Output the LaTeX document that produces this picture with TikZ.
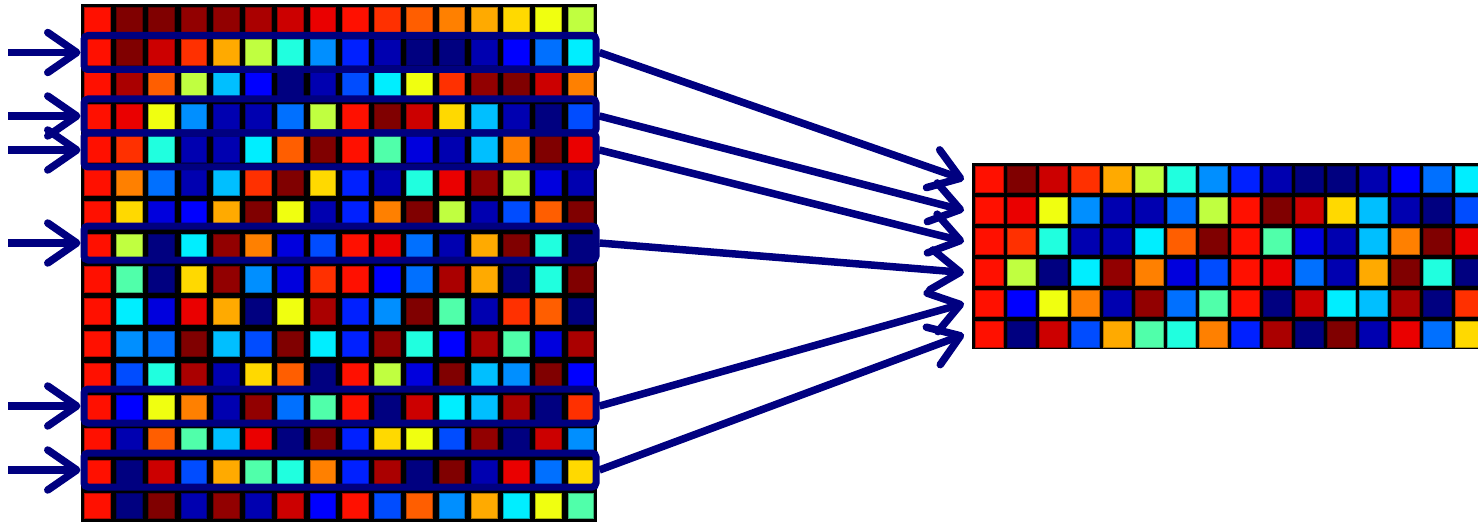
\documentclass[tikz,border=0pt]{standalone}
\usepackage{tikz}
\usetikzlibrary{arrows.meta}
\definecolor{flowNavy}{RGB}{0,0,128}
\definecolor{jN1}{RGB}{0,0,128}
\definecolor{jN2}{RGB}{0,0,176}
\definecolor{jB}{RGB}{0,0,221}
\definecolor{jB1}{RGB}{0,0,255}
\definecolor{jB2}{RGB}{0,32,255}
\definecolor{jB3}{RGB}{0,76,255}
\definecolor{jB4}{RGB}{0,112,255}
\definecolor{jB5}{RGB}{0,143,255}
\definecolor{jB6}{RGB}{0,191,255}
\definecolor{jC}{RGB}{0,238,255}
\definecolor{jT}{RGB}{32,255,223}
\definecolor{jM}{RGB}{80,255,170}
\definecolor{jYG}{RGB}{192,255,64}
\definecolor{jY}{RGB}{240,255,16}
\definecolor{jG}{RGB}{255,217,0}
\definecolor{jO1}{RGB}{255,170,0}
\definecolor{jO2}{RGB}{255,128,0}
\definecolor{jO3}{RGB}{255,94,0}
\definecolor{jRO}{RGB}{255,48,0}
\definecolor{jR}{RGB}{255,16,0}
\definecolor{jR2}{RGB}{234,0,0}
\definecolor{jR3}{RGB}{204,0,0}
\definecolor{jR4}{RGB}{170,0,0}
\definecolor{jR5}{RGB}{146,0,0}
\definecolor{jR6}{RGB}{128,0,0}

\begin{document}
\begin{tikzpicture}[x=1pt, y=-1pt,
        cell/.style={line width=0.8pt},
        selbox/.style={draw=flowNavy, line width=7pt, rounded corners=4pt,
          minimum width=512pt, minimum height=34pt, inner sep=0pt},
        flow/.style={draw=flowNavy, line width=7.5pt,
          -{Straight Barb[length=29pt,width=40pt,line cap=round,line join=round]}}
      ]
        \useasboundingbox (0,0) rectangle (1478,524);
        \clip (0,0) rectangle (1478,524);
        % input matrix
        \fill[black] (81,4) rectangle (597,522);
        \foreach \cells [count=\r from 0] in {
            {R,R6,R6,R5,R5,R4,R3,R2,R,RO,O3,O2,O1,G,Y,YG},
            {R,R6,R3,RO,O1,YG,T,B5,B2,N2,N1,N1,N2,B1,B4,C},
            {R,R4,O3,YG,B6,B1,N1,N2,B3,C,Y,RO,R5,R6,R3,O2},
            {R,R2,Y,B5,N2,N2,B4,YG,R,R6,R3,G,B6,N2,N1,B3},
            {R,RO,T,N2,N2,C,O3,R6,R,M,B,N2,B6,O2,R6,R2},
            {R,O2,B4,N2,B6,RO,R6,G,B2,N2,T,R2,R5,YG,B,N2},
            {R,G,B,B1,O1,R6,Y,N2,B2,O2,R6,YG,N2,B3,O3,R6},
            {R,YG,N1,C,R5,O2,B,B3,R,R2,B4,N2,O1,R6,T,N1},
            {R,M,N1,G,R5,B5,B,RO,R,B1,B4,R4,O1,N1,T,R6},
            {R,C,B,R2,O1,N1,Y,R4,B2,B5,R6,M,N2,RO,O3,N1},
            {R,B5,B4,R6,B6,B3,R6,C,B2,R5,T,B1,R4,M,B,R4},
            {R,B3,T,R4,N2,G,O3,N1,R,YG,B,R6,B6,B5,R6,B1},
            {R,B1,Y,O2,N2,R5,B4,M,R,N1,R3,C,B6,R4,N1,RO},
            {R,N2,O3,M,B6,R2,N1,R6,B2,G,Y,B3,R5,N1,R3,B5},
            {R,N1,R3,B3,O1,M,T,O2,B2,R4,N1,R6,N2,R2,B4,G},
            {R,N1,R6,N2,R5,N2,R3,B1,R,B3,O3,B5,O1,C,Y,M}} {
          \foreach \c [count=\k from 0] in \cells
            \filldraw[cell, fill=j\c, draw=j\c!70!black]
              (84.2+32.25*\k, 7.3+32.375*\r) rectangle ++(25.8,25.8);
          \expandafter\xdef\csname gridrow\r\endcsname{\cells}
        }
        % picked rows
        \fill[black] (972,163) rectangle (1486,349);
        \foreach \src [count=\r from 0] in {1,3,4,7,12,14} {
          \edef\cells{\csname gridrow\src\endcsname}
          \foreach \c [count=\k from 0] in \cells
            \filldraw[cell, fill=j\c, draw=j\c!70!black]
              (975+32*\k, 166.5+31*\r) rectangle ++(28,26);
          \coordinate (out\r) at (964, 179.5+31*\r);
        }
        \foreach \n/\y in {1/52.5, 3/116, 4/150, 7/243, 12/406, 14/470} {
          \node[selbox] (sel\n) at (340,\y) {};
          \coordinate (in\n) at (8,\y);
        }
        \foreach \n in {1,3,4,7,12,14}
          \draw[flow] (in\n) -- (sel\n.west);
        \foreach \n/\m in {1/0,3/1,4/2,7/3,12/4,14/5}
          \draw[flow] (sel\n.east) -- (out\m);
      \end{tikzpicture}
\end{document}
